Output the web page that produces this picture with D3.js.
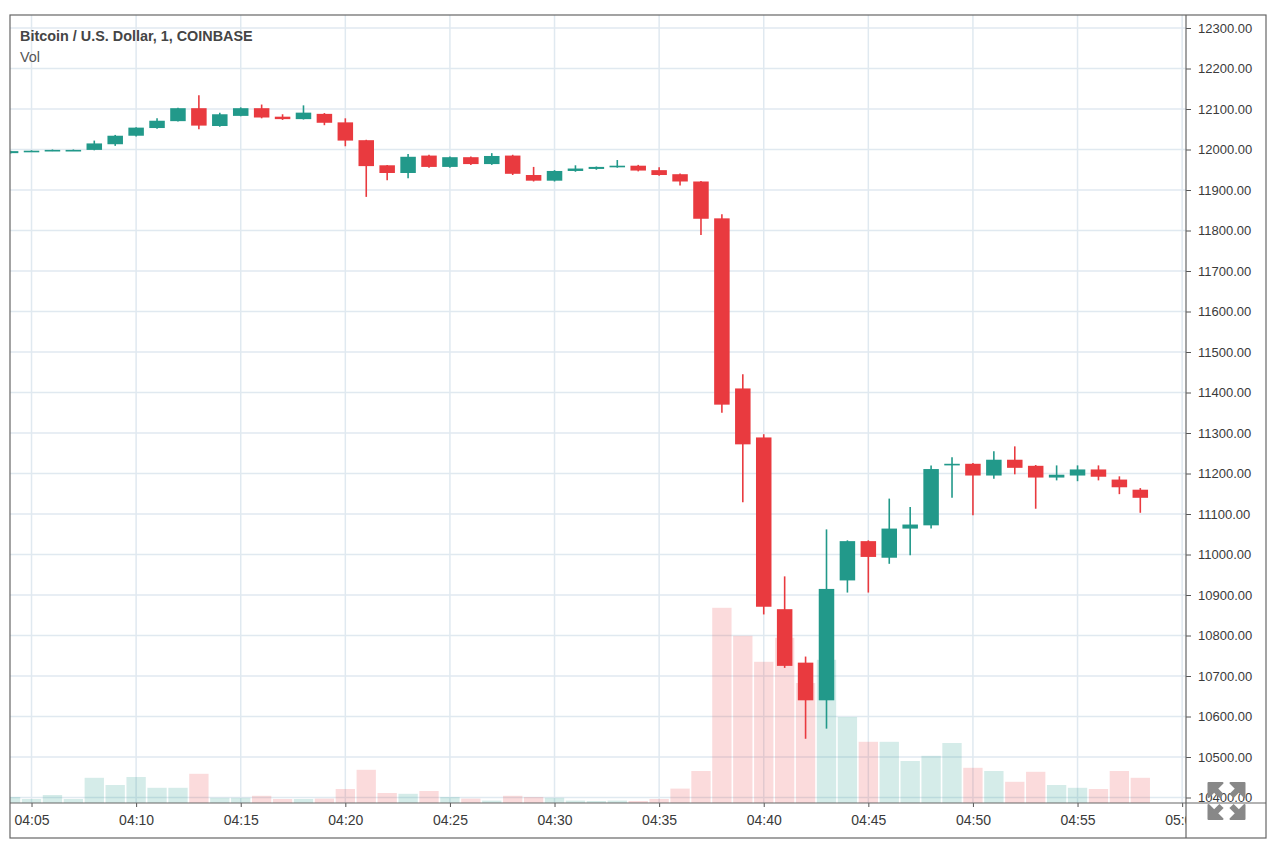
<!DOCTYPE html>
<html>
<head>
<meta charset="utf-8">
<script src="https://cdn.jsdelivr.net/npm/d3@7"></script>
<style>
  body { margin: 0; background: #fff; }
  svg { display: block; font-family: "Liberation Sans", Arial, sans-serif; }
</style>
</head>
<body>
<svg id="chart" width="1280" height="850"></svg>
<script>
// one-minute candles, BTC/USD on Coinbase
const times = ["04:04","04:05","04:06","04:07","04:08","04:09","04:10","04:11","04:12","04:13",
  "04:14","04:15","04:16","04:17","04:18","04:19","04:20","04:21","04:22","04:23",
  "04:24","04:25","04:26","04:27","04:28","04:29","04:30","04:31","04:32","04:33",
  "04:34","04:35","04:36","04:37","04:38","04:39","04:40","04:41","04:42","04:43",
  "04:44","04:45","04:46","04:47","04:48","04:49","04:50","04:51","04:52","04:53",
  "04:54","04:55","04:56","04:57","04:58"];
const opens = [11991,11995,11997,11998,11999,12013,12034,12053,12070,12102,
  12058,12083,12102,12081,12075,12088,12067,12023,11961,11942,
  11985,11957,11981,11964,11985,11937,11923,11947,11952,11956,
  11960,11949,11939,11921,11830,11410,11289,10865,10733,10640,
  10936,11033,10992,11064,11072,11220,11224,11195,11234,11219,
  11190,11195,11210,11185,11160];
const highs = [11997,11998,12000,12000,12022,12036,12055,12077,12103,12134,
  12091,12104,12111,12087,12109,12090,12077,12024,11962,11989,
  11987,11983,11983,11991,11987,11957,11949,11961,11958,11974,
  11962,11956,11941,11922,11840,11445,11297,10946,10748,11062,
  11035,11035,11138,11117,11220,11240,11226,11255,11267,11221,
  11220,11220,11220,11193,11164];
const lows = [11990,11994,11996,11997,11998,12009,12032,12051,12069,12050,
  12056,12082,12077,12073,12074,12060,12008,11883,11924,11929,
  11955,11955,11962,11962,11937,11921,11921,11945,11950,11955,
  11946,11935,11911,11789,11350,11129,10852,10720,10545,10570,
  10906,10906,10977,10998,11064,11140,11097,11187,11198,11113,
  11183,11181,11183,11149,11103];
const closes = [11996,11997,11999,11999,12015,12034,12054,12071,12102,12059,
  12087,12102,12079,12075,12091,12066,12022,11959,11942,11982,
  11957,11981,11964,11984,11940,11923,11947,11953,11957,11960,
  11948,11937,11921,11829,11370,11272,10871,10725,10640,10915,
  11033,10994,11064,11074,11211,11224,11195,11234,11214,11190,
  11197,11210,11192,11166,11140];
const volumes = [15,10,20,10,63,45,65,38,38,73,
  13,13,18,10,10,11,35,83,25,23,
  30,15,11,6,18,15,13,6,5,6,
  5,10,36,80,488,418,353,413,300,358,
  215,153,153,105,118,150,88,80,53,78,
  45,38,35,80,63];
const priceTicks = [12300,12200,12100,12000,11900,11800,11700,11600,11500,11400,
  11300,11200,11100,11000,10900,10800,10700,10600,10500,10400];
const timeTicks = ["04:05","04:10","04:15","04:20","04:25","04:30","04:35","04:40","04:45","04:50","04:55","05:00"];

const upColor = "#22998a", downColor = "#e93a3f";
const frameL = 10, frameT = 15, frameR = 1266, frameB = 838;
const paneR = 1186, paneB = 803;

const parse = d3.timeParse("%H:%M");
const svg = d3.select("#chart");

const x = d3.scaleTime().domain([parse("04:04"), parse("04:58")]).range([10.6, 1140.3]);
const y = d3.scaleLinear().domain([10400, 12300]).range([797.5, 28]);
const yVol = d3.scaleLinear().domain([0, 500]).range([paneB, 603]);

const candles = times.map((t, i) => ({
  t: parse(t), o: opens[i], h: highs[i], l: lows[i], c: closes[i], v: volumes[i],
  up: closes[i] >= opens[i]
}));

// clips for the price pane and the time axis
const defs = svg.append("defs");
defs.append("clipPath").attr("id", "pane")
  .append("rect").attr("x", frameL).attr("y", frameT).attr("width", paneR - frameL).attr("height", paneB - frameT);
defs.append("clipPath").attr("id", "timeaxis")
  .append("rect").attr("x", frameL).attr("y", paneB).attr("width", paneR - frameL).attr("height", frameB - paneB);

const pane = svg.append("g").attr("clip-path", "url(#pane)");

// grid
pane.append("g").selectAll("line").data(priceTicks).join("line")
  .attr("x1", frameL).attr("x2", paneR)
  .attr("y1", d => y(d)).attr("y2", d => y(d))
  .attr("stroke", "#e0e9f0").attr("stroke-width", 1.5);
pane.append("g").selectAll("line").data(timeTicks).join("line")
  .attr("x1", d => x(parse(d))).attr("x2", d => x(parse(d)))
  .attr("y1", frameT).attr("y2", paneB)
  .attr("stroke", "#e0e9f0").attr("stroke-width", 1.5);

// volume bars
const step = x(parse("04:05")) - x(parse("04:04"));
pane.append("g").selectAll("rect").data(candles).join("rect")
  .attr("x", d => x(d.t) - (step - 1.6) / 2)
  .attr("width", step - 1.6)
  .attr("y", d => yVol(d.v))
  .attr("height", d => paneB - yVol(d.v))
  .attr("fill", d => d.up ? upColor : downColor)
  .attr("fill-opacity", d => d.up ? 0.19 : 0.18);

// wicks and bodies
const bw = 15.5;
const g = pane.append("g").selectAll("g").data(candles).join("g")
  .attr("fill", d => d.up ? upColor : downColor)
  .attr("stroke", d => d.up ? upColor : downColor);
g.append("line")
  .attr("x1", d => x(d.t)).attr("x2", d => x(d.t))
  .attr("y1", d => y(d.h)).attr("y2", d => y(d.l))
  .attr("stroke-width", 1.6);
g.append("rect")
  .attr("x", d => x(d.t) - bw / 2).attr("width", bw)
  .attr("y", d => Math.min(y(d.o), y(d.c)))
  .attr("height", d => Math.max(1.6, Math.abs(y(d.o) - y(d.c))))
  .attr("stroke", "none");

// legend text
svg.append("text").attr("x", 20).attr("y", 40.5)
  .attr("font-size", 14.4).attr("font-weight", "bold").attr("fill", "#454545")
  .text("Bitcoin / U.S. Dollar, 1, COINBASE");
svg.append("text").attr("x", 20).attr("y", 61.5)
  .attr("font-size", 14.4).attr("fill", "#555")
  .text("Vol");

// price axis
const yAxisG = svg.append("g").attr("transform", `translate(${paneR},0)`)
  .call(d3.axisRight(y).tickValues(priceTicks).tickFormat(d3.format(".2f")).tickSize(5).tickPadding(7));
yAxisG.select(".domain").remove();
yAxisG.selectAll("line").attr("stroke", "#555");
yAxisG.selectAll("text").attr("font-size", 13).attr("fill", "#3a3a3a");
yAxisG.attr("font-family", null);

// time axis
const xAxisG = svg.append("g").attr("clip-path", "url(#timeaxis)")
  .append("g").attr("transform", `translate(0,${paneB})`)
  .call(d3.axisBottom(x).tickValues(timeTicks.map(parse)).tickFormat(d3.timeFormat("%H:%M")).tickSize(4).tickPadding(8));
xAxisG.select(".domain").remove();
xAxisG.selectAll("line").attr("stroke", "#555");
xAxisG.selectAll("text").attr("font-size", 14).attr("fill", "#3a3a3a");
xAxisG.attr("font-family", null);

// frame
svg.append("rect").attr("x", frameL).attr("y", frameT)
  .attr("width", frameR - frameL).attr("height", frameB - frameT)
  .attr("fill", "none").attr("stroke", "#666").attr("stroke-width", 1.2);
svg.append("line").attr("x1", paneR).attr("x2", paneR).attr("y1", frameT).attr("y2", frameB)
  .attr("stroke", "#666").attr("stroke-width", 1.2);
svg.append("line").attr("x1", frameL).attr("x2", frameR).attr("y1", paneB).attr("y2", paneB)
  .attr("stroke", "#666").attr("stroke-width", 1.2);

// full-screen button in the corner
const icon = svg.append("g").attr("transform", "translate(1226.5,801)").attr("fill", "#888").attr("stroke", "#888");
[[-1,-1],[1,-1],[1,1],[-1,1]].forEach(([sx, sy]) => {
  icon.append("path")
    .attr("d", `M${sx*18},${sy*18} L${sx*4},${sy*18} L${sx*18},${sy*4} Z`)
    .attr("stroke-width", 2).attr("stroke-linejoin", "round");
  icon.append("line")
    .attr("x1", sx*5).attr("y1", sy*5).attr("x2", sx*13).attr("y2", sy*13)
    .attr("stroke-width", 6);
});
</script>
</body>
</html>
